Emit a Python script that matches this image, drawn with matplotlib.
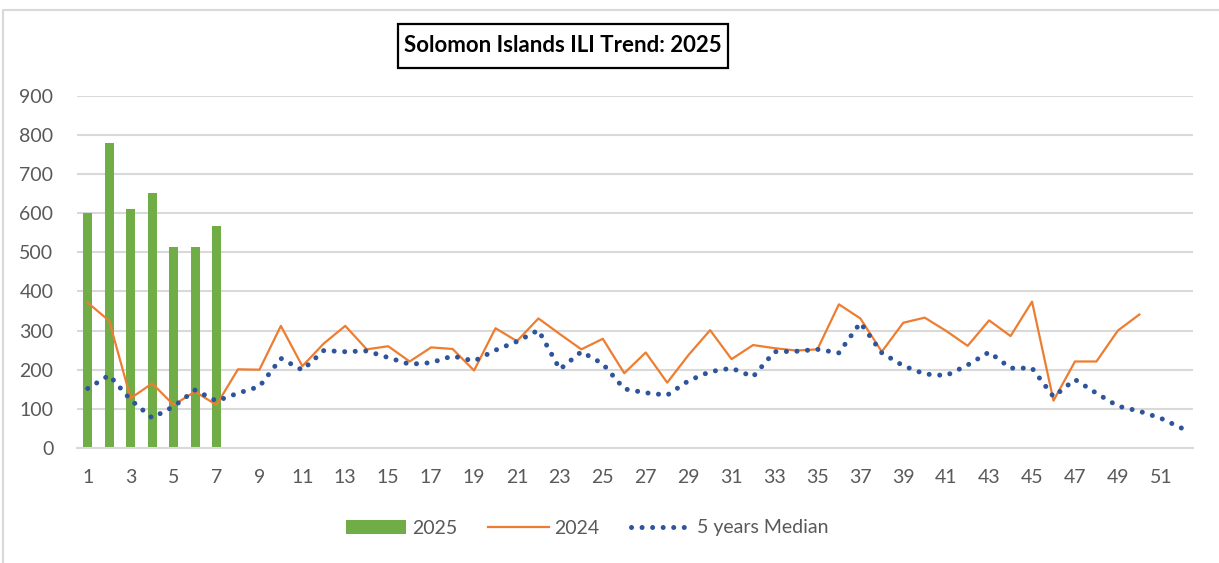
import numpy as np
import matplotlib
matplotlib.use('Agg')
import matplotlib.pyplot as plt
from matplotlib.lines import Line2D
from matplotlib.patches import Rectangle

plt.rcParams['font.family'] = ['Lato', 'DejaVu Sans']

weeks = np.arange(1, 53)
cases_2025 = [600, 778, 610, 652, 513, 513, 567]
cases_2024 = [371, 325, 127, 165, 110, 144, 110, 201, 200, 312,
              209, 267, 312, 252, 260, 221, 257, 253, 198, 306,
              273, 331, 291, 252, 279, 191, 244, 167, 238, 301,
              227, 263, 255, 249, 252, 367, 331, 246, 320, 333,
              299, 261, 326, 286, 374, 121, 221, 221, 300, 341]
median_5yr = [152, 186, 123, 77, 106, 148, 120, 140, 157, 229,
              199, 249, 246, 248, 231, 214, 218, 235, 222, 250,
              272, 301, 201, 246, 215, 151, 141, 135, 172, 195,
              204, 182, 246, 247, 252, 243, 320, 243, 210, 189,
              185, 212, 245, 204, 204, 131, 175, 140, 107, 94,
              76, 50]
tick_weeks = list(range(1, 53, 2))

green = '#70AD47'
orange = '#ED7D31'
blue = '#2E559C'
grid_grey = '#D9D9D9'
text_grey = '#595959'

W, H = 1219, 563
fig = plt.figure(figsize=(W / 100, H / 100), dpi=100)
ax = fig.add_axes([77 / W, 1 - 448 / H, (1193 - 77) / W, (448 - 95.7) / H])

bars = ax.bar(weeks[:len(cases_2025)], cases_2025, width=0.42, color=green, label='2025', zorder=2)
line24, = ax.plot(weeks[:len(cases_2024)], cases_2024, color=orange, lw=1.6, label='2024', zorder=3)
med, = ax.plot(weeks, median_5yr, color=blue, lw=3.6, linestyle=(0, (0.01, 2.1)),
               dash_capstyle='round', label='5 years Median', zorder=4)

ax.set_xlim(0.5, 52.5)
ax.set_ylim(0, 900)
ax.set_yticks(range(0, 901, 100))
ax.set_xticks(tick_weeks)
ax.grid(axis='y', color=grid_grey, lw=1.5, zorder=0)
ax.set_axisbelow(True)
for side in ['top', 'right', 'left']:
    ax.spines[side].set_visible(False)
ax.spines['bottom'].set_color(grid_grey)
ax.spines['bottom'].set_linewidth(1.5)
ax.tick_params(axis='both', length=0, labelsize=14, labelcolor=text_grey)
ax.tick_params(axis='y', pad=17)
ax.tick_params(axis='x', pad=15)

ax.legend(handles=[bars, line24, med], loc='center', bbox_to_anchor=(587 / W, 1 - 528 / H),
          bbox_transform=fig.transFigure, ncol=3, frameon=False, fontsize=14,
          labelcolor=text_grey, handlelength=3.1, handletextpad=0.3, columnspacing=1.6)

# title in a black box
fig.add_artist(Rectangle((398 / W, 1 - 68 / H), 330 / W, 44 / H, transform=fig.transFigure,
                         facecolor='white', edgecolor='black', lw=1.6))
fig.text(563 / W, 1 - 45.5 / H, 'Solomon Islands ILI Trend: 2025', ha='center', va='center',
         fontsize=16, fontweight='bold', color='black')

# chart area border (only the top and left edges are in the picture)
fig.add_artist(Line2D([2.5 / W, 2.5 / W, 1], [0, 1 - 9.5 / H, 1 - 9.5 / H],
                      transform=fig.transFigure, color=grid_grey, lw=1.5))

fig.savefig('out.png', dpi=100)
